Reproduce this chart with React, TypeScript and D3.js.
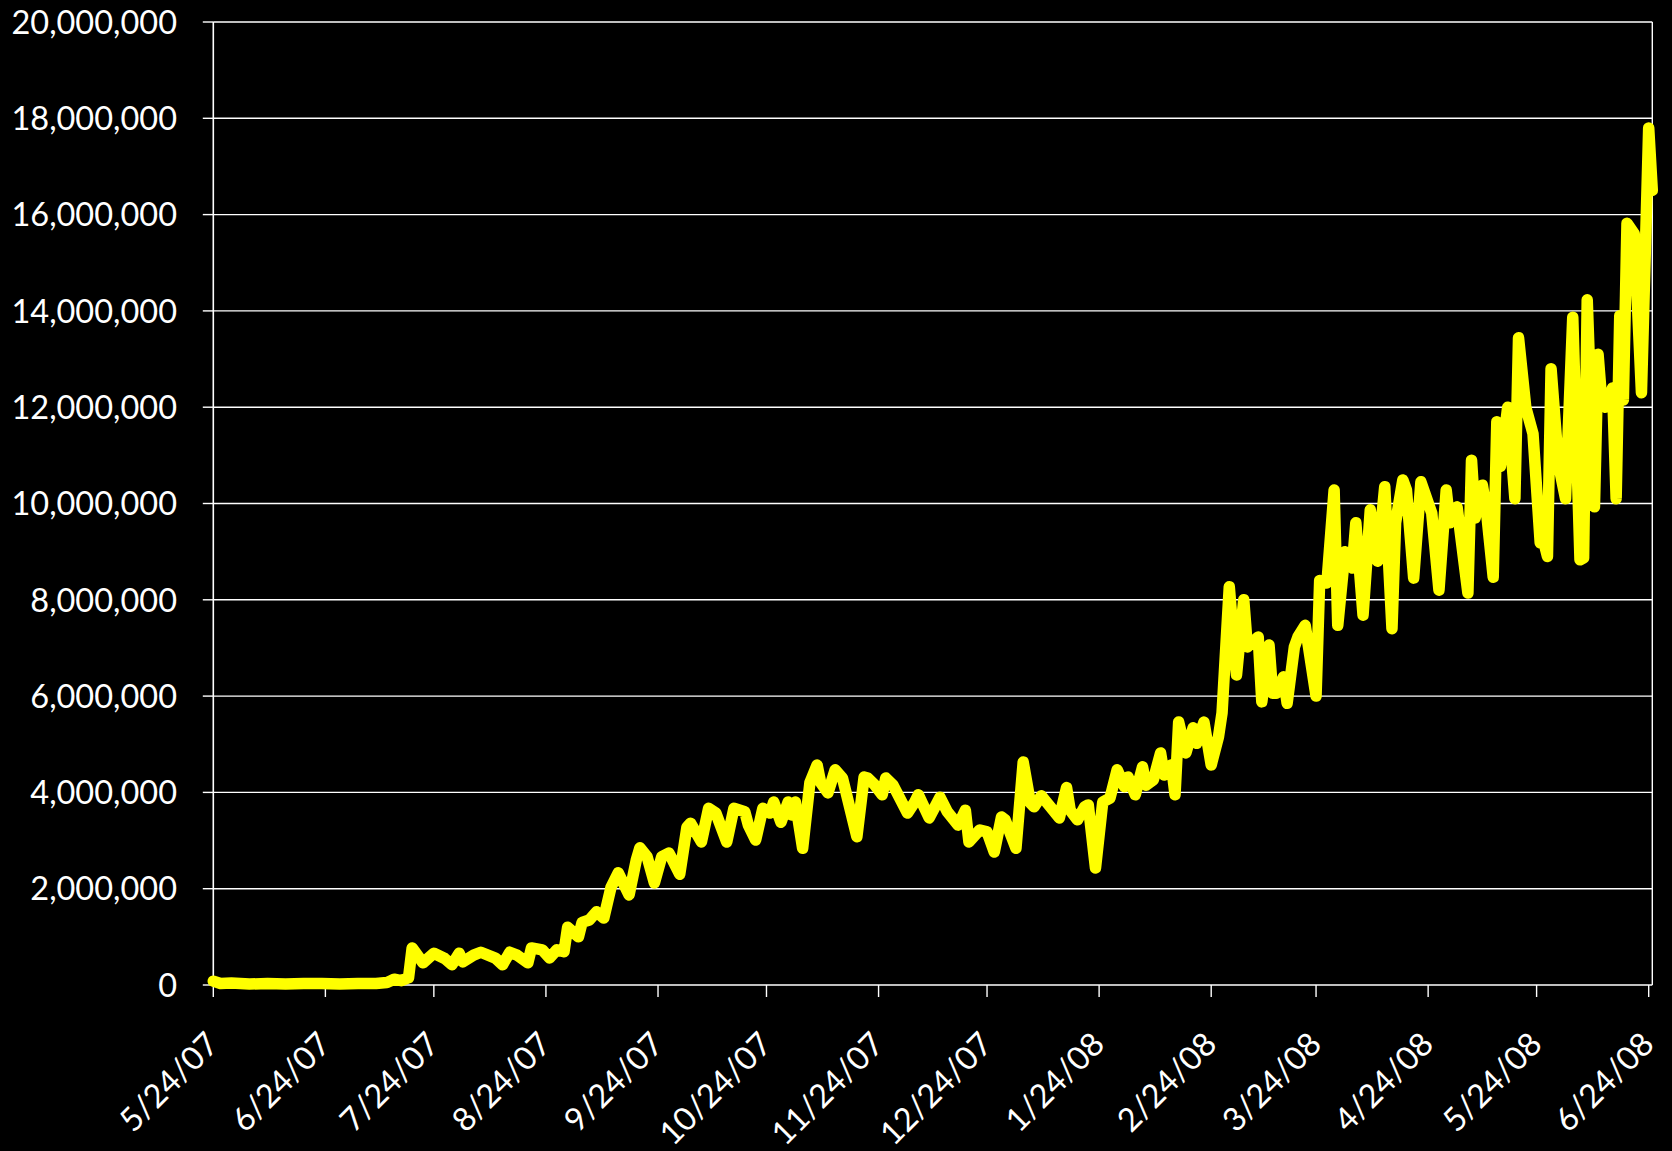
import React from 'react';
import * as d3 from 'd3';

// daily series, day offsets counted from 5/24/07, values in millions
const DAYS = [
  0, 2, 5, 10, 15, 20, 25, 30, 35, 40, 45, 48, 50, 52, 54, 55, 58, 61, 64, 66,
  68, 69, 72, 74, 78, 80, 82, 84, 87, 88, 91, 93, 95, 97, 98, 101, 102, 104, 106, 108,
  110, 112, 115, 117, 118, 120, 122, 124, 126, 127, 129, 131, 132, 135, 137, 139, 142, 144, 147, 148,
  150, 152, 154, 155, 157, 159, 160, 161, 163, 165, 167, 168, 170, 172, 174, 175, 178, 180, 181, 183,
  185, 186, 188, 192, 194, 195, 198, 201, 203, 206, 208, 209, 212, 214, 216, 218, 219, 222, 224, 226,
  227, 229, 230, 234, 236, 237, 239, 241, 242, 244, 246, 248, 250, 252, 253, 255, 257, 258, 260, 262,
  263, 265, 266, 267, 269, 271, 272, 274, 276, 278, 279, 281, 283, 285, 286, 289, 290, 292, 293, 294,
  296, 297, 299, 300, 302, 305, 306, 308, 310, 311, 313, 315, 316, 318, 320, 322, 324, 326, 327, 329,
  330, 332, 334, 337, 339, 341, 342, 344, 347, 348, 349, 351, 352, 354, 355, 356, 358, 360, 361, 363,
  365, 367, 368, 369, 370, 372, 374, 376, 378, 379, 380, 382, 383, 384, 385, 387, 388, 389, 390, 391,
  393, 395, 397, 398,
];

const VIEWS_M = [
  0.08, 0.03, 0.04, 0.02, 0.03, 0.02, 0.03, 0.03, 0.02, 0.03, 0.03, 0.05, 0.12, 0.09, 0.15, 0.77, 0.46, 0.66, 0.55, 0.42,
  0.66, 0.48, 0.62, 0.68, 0.56, 0.42, 0.68, 0.62, 0.46, 0.77, 0.73, 0.56, 0.73, 0.69, 1.2, 1.0, 1.3, 1.35, 1.52, 1.39,
  2.03, 2.33, 1.87, 2.6, 2.85, 2.66, 2.12, 2.66, 2.74, 2.6, 2.3, 3.28, 3.36, 2.97, 3.67, 3.57, 2.97, 3.67, 3.6, 3.32,
  3.01, 3.67, 3.57, 3.8, 3.38, 3.8, 3.53, 3.8, 2.84, 4.2, 4.57, 4.2, 3.99, 4.47, 4.3, 4.0, 3.08, 4.32, 4.3, 4.15,
  3.95, 4.3, 4.15, 3.57, 3.8, 3.95, 3.47, 3.9, 3.6, 3.32, 3.63, 2.97, 3.22, 3.18, 2.76, 3.49, 3.43, 2.84, 4.63, 3.78,
  3.7, 3.93, 3.84, 3.47, 4.1, 3.63, 3.43, 3.7, 3.74, 2.43, 3.8, 3.88, 4.47, 4.12, 4.32, 3.95, 4.53, 4.15, 4.26, 4.82,
  4.36, 4.57, 3.95, 5.46, 4.82, 5.34, 5.02, 5.46, 4.57, 5.15, 5.65, 8.27, 6.44, 8.0, 7.02, 7.23, 5.88, 7.06, 6.06, 6.06,
  6.4, 5.85, 7.02, 7.23, 7.47, 6.0, 8.4, 8.35, 10.28, 7.47, 9.0, 8.66, 9.6, 7.68, 9.87, 8.8, 10.35, 7.4, 9.6, 10.49,
  10.28, 8.45, 10.45, 9.8, 8.2, 10.28, 9.6, 9.93, 8.14, 10.9, 9.7, 10.38, 9.93, 8.47, 11.7, 10.77, 12.0, 10.1, 13.44, 12.0,
  11.45, 9.18, 9.2, 8.9, 12.8, 10.84, 10.1, 13.87, 8.83, 8.87, 14.23, 9.93, 13.1, 12.15, 12.0, 12.4, 10.1, 13.9, 12.15, 15.82,
  15.6, 12.3, 17.8, 16.5,
];

const Y_TICKS = [0, 2e6, 4e6, 6e6, 8e6, 10e6, 12e6, 14e6, 16e6, 18e6, 20e6];

const X_TICK_LABELS = [
  '5/24/07', '6/24/07', '7/24/07', '8/24/07', '9/24/07', '10/24/07', '11/24/07',
  '12/24/07', '1/24/08', '2/24/08', '3/24/08', '4/24/08', '5/24/08', '6/24/08',
];

const W = 1672;
const H = 1151;
const LEFT = 213.3;
const RIGHT = 1652.3;
const TOP = 22;
const BOTTOM = 985;
const FONT = 'Lato, "Open Sans", sans-serif';

const parseDate = d3.timeParse('%m/%d/%y');
const START = parseDate('5/24/07') as Date;

const App: React.FC = () => {
  const x = d3.scaleTime()
    .domain([START, d3.timeDay.offset(START, 398)])
    .range([LEFT, RIGHT]);

  const y = d3.scaleLinear()
    .domain([0, 20e6])
    .range([BOTTOM, TOP]);

  const points = DAYS.map((d, i) => ({ date: d3.timeDay.offset(START, d), v: VIEWS_M[i] * 1e6 }));

  const line = d3.line<{ date: Date; v: number }>()
    .x(d => x(d.date))
    .y(d => y(d.v));

  const fmt = d3.format(',');

  return (
    <div style={{ position: 'fixed', left: 0, top: 0, width: W, height: H, background: '#000' }}>
      <svg width={W} height={H} style={{ display: 'block' }}>
        <rect width={W} height={H} fill="#000" />

        {/* gridlines + y ticks */}
        {Y_TICKS.map(t => (
          <g key={t}>
            {t > 0 && (
              <line x1={LEFT} x2={RIGHT} y1={y(t)} y2={y(t)} stroke="#fff" strokeWidth={1.4} />
            )}
            <line x1={LEFT - 10.5} x2={LEFT} y1={y(t)} y2={y(t)} stroke="#fff" strokeWidth={1.4} />
            <text
              x={177}
              y={y(t)}
              dy="0.36em"
              textAnchor="end"
              fill="#fff"
              fontFamily={FONT}
              fontSize={32.5}
            >
              {fmt(t)}
            </text>
          </g>
        ))}

        {/* plot frame: left axis, bottom axis, right border */}
        <line x1={LEFT} x2={LEFT} y1={TOP} y2={BOTTOM} stroke="#fff" strokeWidth={1.6} />
        <line x1={RIGHT} x2={RIGHT} y1={TOP} y2={BOTTOM} stroke="#fff" strokeWidth={1.4} />
        <line x1={LEFT} x2={RIGHT} y1={BOTTOM} y2={BOTTOM} stroke="#fff" strokeWidth={1.6} />

        {/* x ticks + rotated date labels */}
        {X_TICK_LABELS.map(lbl => {
          const tx = x(parseDate(lbl) as Date);
          return (
            <g key={lbl}>
              <line x1={tx} x2={tx} y1={BOTTOM} y2={BOTTOM + 12} stroke="#fff" strokeWidth={1.4} />
              <text
                transform={`translate(${tx - 1},${1038}) rotate(-45)`}
                dy="0.36em"
                textAnchor="end"
                fill="#fff"
                fontFamily={FONT}
                fontSize={32.5}
              >
                {lbl}
              </text>
            </g>
          );
        })}

        <path
          d={line(points) ?? ''}
          fill="none"
          stroke="#ffff00"
          strokeWidth={11.5}
          strokeLinejoin="round"
          strokeLinecap="round"
        />
      </svg>
    </div>
  );
};

export default App;
